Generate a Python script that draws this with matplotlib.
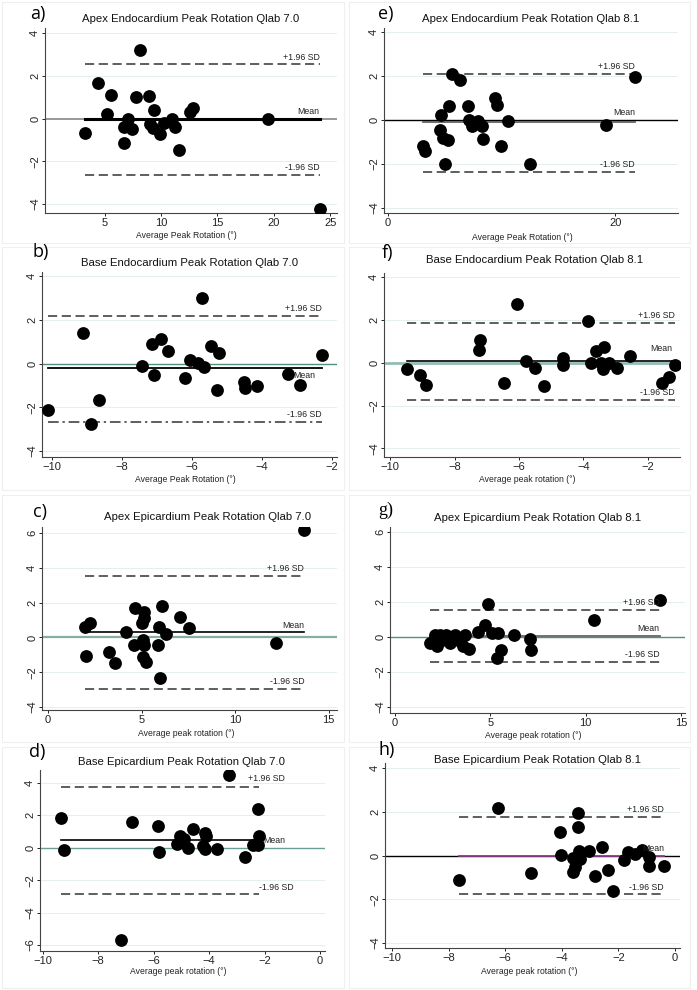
import matplotlib
matplotlib.use("Agg")
import matplotlib.pyplot as plt
from matplotlib.patches import Rectangle

W, H = 697, 990

# ---- data: average vs difference ----
# a) Apex Endocardium Qlab 7.0
a_avg = [3.22, 4.41, 5.53, 5.21, 8.11, 6.69, 6.69, 7.07, 7.46, 7.81, 8.94, 9.0,
         9.30, 9.36, 9.89, 10.27, 10.99, 11.22, 11.61, 12.56, 12.85, 19.52, 24.05]
a_diff = [-0.69, 1.68, 1.09, 0.23, 3.20, -0.40, -1.13, 0.0, -0.51, 1.00, 1.06, -0.27,
          -0.46, 0.38, -0.71, -0.22, -0.03, -0.38, -1.48, 0.31, 0.48, 0.0, -4.23]
a_lim = [2.54, -0.04, -2.65]  # upper, mean, lower

# e) Apex Endocardium Qlab 8.1
e_avg = [3.09, 3.29, 4.62, 4.56, 4.85, 5.29, 5.0, 5.35, 5.59, 6.32, 7.0, 7.12,
         7.35, 7.94, 8.24, 8.38, 9.41, 9.56, 9.94, 10.59, 12.5, 19.18, 21.7]
e_diff = [-1.20, -1.42, 0.21, -0.44, -0.82, -0.89, -2.0, 0.65, 2.11, 1.83, 0.65, 0.02,
          -0.29, -0.06, -0.26, -0.86, 1.0, 0.70, -1.20, -0.06, -2.0, -0.24, 1.95]
e_lim = [2.11, -0.11, -2.35]

# b) Base Endocardium Qlab 7.0
b_avg = [-10.11, -9.11, -8.90, -8.67, -7.43, -7.14, -6.90, -7.08, -6.69, -6.19, -6.07, -5.84,
         -5.67, -5.71, -5.46, -5.24, -5.29, -4.52, -4.48, -4.14, -3.26, -2.93, -2.30]
b_diff = [-2.13, 1.41, -2.74, -1.67, -0.11, 0.87, 1.10, -0.53, 0.56, -0.66, 0.15, 0.03,
          -0.15, 3.01, 0.78, 0.49, -1.22, -0.85, -1.11, -1.03, -0.49, -1.00, 0.41]
b_lim = [2.17, -0.20, -2.65]

# f) Base Endocardium Qlab 8.1
f_avg = [-9.48, -9.07, -8.89, -7.21, -7.23, -6.46, -6.05, -5.79, -5.49, -5.23, -4.64, -4.64,
         -3.86, -3.76, -3.60, -3.36, -3.45, -3.40, -3.19, -2.95, -2.54, -1.57, -1.33, -1.16]
f_diff = [-0.30, -0.57, -1.03, 1.07, 0.62, -0.92, 2.75, 0.10, -0.24, -1.06, 0.22, -0.08,
          1.97, -0.01, 0.54, 0.72, 0.01, -0.31, 0.01, -0.24, 0.34, -0.95, -0.68, -0.08]
f_lim = [1.87, 0.08, -1.72]

# c) Apex Epicardium Qlab 7.0
c_avg = [2.0, 2.26, 2.03, 3.28, 3.60, 4.17, 4.67, 4.58, 5.15, 5.15, 5.02, 5.08,
         5.11, 5.08, 5.26, 5.93, 5.86, 6.08, 6.32, 5.97, 7.04, 7.52, 12.2, 13.7]
c_diff = [0.62, 0.85, -1.08, -0.83, -1.46, 0.29, 1.71, -0.44, 1.48, 1.13, 0.81, -0.12,
          -0.44, -1.12, -1.40, 0.62, -0.44, 1.83, 0.19, -2.31, 1.19, 0.56, -0.31, 6.15]
c_lim = [3.54, 0.29, -2.94]

# g) Apex Epicardium Qlab 8.1
g_avg = [1.83, 2.09, 2.18, 2.35, 2.44, 2.70, 2.88, 3.14, 3.31, 3.58, 3.66, 3.87,
         4.33, 4.71, 4.88, 5.06, 5.41, 5.58, 5.37, 6.24, 7.1, 7.12, 10.43, 13.87]
g_diff = [-0.34, 0.15, -0.53, 0.15, -0.19, 0.10, -0.34, 0.15, -0.19, -0.51, 0.10, -0.67,
          0.29, 0.70, 1.87, 0.25, 0.25, -0.72, -1.20, 0.13, -0.10, -0.72, 0.99, 2.10]
g_lim = [1.56, 0.08, -1.43]

# d) Base Epicardium Qlab 7.0
d_avg = [-9.34, -9.22, -6.78, -5.84, -5.81, -5.16, -5.06, -4.90, -4.76, -4.58, -4.16, -4.10,
         -4.22, -4.16, -3.73, -3.28, -2.71, -2.41, -2.23, -2.23, -2.19, -7.18]
d_diff = [1.84, -0.12, 1.57, 1.36, -0.23, 0.25, 0.70, 0.54, -0.04, 1.15, 0.91, 0.70,
          0.12, -0.08, -0.08, 4.52, -0.54, 0.16, 2.39, 0.19, 0.74, -5.70]
d_lim = [3.75, 0.45, -2.87]

# h) Base Epicardium Qlab 8.1
h_avg = [-7.65, -6.27, -5.08, -4.06, -4.04, -3.59, -3.55, -3.61, -3.41, -3.44, -3.38, -3.35,
         -3.02, -2.82, -2.59, -2.35, -2.20, -1.79, -1.67, -1.41, -1.18, -0.92, -0.92, -0.39]
h_diff = [-1.11, 2.17, -0.80, 1.07, 0.01, -0.11, -0.54, -0.77, 1.94, 1.30, 0.19, -0.16,
          0.19, -0.92, 0.39, -0.68, -1.61, -0.19, 0.14, 0.07, 0.27, -0.07, -0.47, -0.50]
h_lim = [1.77, 0.0, -1.78]

plt.rcParams['font.family'] = ['Liberation Sans', 'DejaVu Sans']

fig = plt.figure(figsize=(W / 100, H / 100), dpi=100)


def px_axes(l, t, r, b):
    return fig.add_axes([l / W, 1 - b / H, (r - l) / W, (b - t) / H])


# faint borders of the pasted panels
for (l, t, r, b) in [(2, 2, 344, 243), (349, 2, 690, 243), (2, 247, 344, 490),
                     (349, 247, 690, 490), (2, 495, 344, 742), (349, 495, 690, 742),
                     (2, 747, 344, 988), (349, 747, 690, 988)]:
    fig.patches.append(Rectangle((l / W, 1 - b / H), (r - l) / W, (b - t) / H,
                                 transform=fig.transFigure, fill=False,
                                 ec='#efefef', lw=0.8))

panels = [
    dict(letter='a)', title='Apex Endocardium Peak Rotation Qlab 7.0',
         xlabel='Average Peak Rotation (°)', box=(45, 28, 337, 213),
         xlim=(-0.3, 25.6), ylim=(-4.42, 4.24), xt=[5, 10, 15, 20, 25], yt=[-4, -2, 0, 2, 4],
         x=a_avg, y=a_diff, lim=a_lim, zc='#8a8a8a', zlw=1.2, mc='black', mlw=2.2,
         let=(38, 14), tit=(191, 19), xl=(186, 235)),
    dict(letter='e)', title='Apex Endocardium Peak Rotation Qlab 8.1',
         xlabel='Average Peak Rotation (°)', box=(384, 28, 678, 213),
         xlim=(-0.35, 25.5), ylim=(-4.23, 4.18), xt=[0, 20], yt=[-4, -2, 0, 2, 4],
         x=e_avg, y=e_diff, lim=e_lim, zc='black', zlw=1.0, mc='#555555', mlw=1.2,
         let=(386, 14), tit=(531, 19), xl=(522, 237)),
    dict(letter='b)', title='Base Endocardium Peak Rotation Qlab 7.0',
         xlabel='Average Peak Rotation (°)', box=(42, 272, 337, 457),
         xlim=(-10.29, -1.86), ylim=(-4.27, 4.18), xt=[-10, -8, -6, -4, -2], yt=[-4, -2, 0, 2, 4],
         x=b_avg, y=b_diff, lim=b_lim, zc='#4f8f80', zlw=1.0, mc='black', mlw=1.3,
         let=(41, 252), tit=(190, 263), xl=(185, 479)),
    dict(letter='f)', title='Base Endocardium Peak Rotation Qlab 8.1',
         xlabel='Average peak rotation (°)', box=(384, 273, 680, 457),
         xlim=(-10.19, -1.0), ylim=(-4.4, 4.2), xt=[-10, -8, -6, -4, -2], yt=[-4, -2, 0, 2, 4],
         x=f_avg, y=f_diff, lim=f_lim, zc='#93bdb4', zlw=2.0, mc='black', mlw=1.2,
         let=(387, 253), tit=(535, 260), xl=(527, 480)),
    dict(letter='c)', title='Apex Epicardium Peak Rotation Qlab 7.0',
         xlabel='Average peak rotation (°)', box=(42, 527, 337, 710),
         xlim=(-0.32, 15.45), ylim=(-4.17, 6.35), xt=[0, 5, 10, 15], yt=[-4, -2, 0, 2, 4, 6],
         x=c_avg, y=c_diff, lim=c_lim, zc='#86aea5', zlw=1.6, mc='black', mlw=1.2,
         let=(40, 512), tit=(208, 517), xl=(186, 734)),
    dict(letter='g)', title='Apex Epicardium Peak Rotation Qlab 8.1',
         xlabel='Average peak rotation (°)', box=(390, 527, 685, 713),
         xlim=(-0.26, 15.2), ylim=(-4.34, 6.3), xt=[0, 5, 10, 15], yt=[-4, -2, 0, 2, 4, 6],
         x=g_avg, y=g_diff, lim=g_lim, zc='#4f8f85', zlw=1.0, mc='#666666', mlw=1.3,
         let=(386, 510), tit=(538, 518), xl=(533, 736)),
    dict(letter='d)', title='Base Epicardium Peak Rotation Qlab 7.0',
         xlabel='Average peak rotation (°)', box=(40, 770, 325, 951),
         xlim=(-10.1, 0.18), ylim=(-6.37, 4.8), xt=[-10, -8, -6, -4, -2, 0], yt=[-6, -4, -2, 0, 2, 4],
         x=d_avg, y=d_diff, lim=d_lim, zc='#6b9e94', zlw=1.0, mc='black', mlw=1.2,
         let=(37, 752), tit=(182, 762), xl=(178, 972)),
    dict(letter='h)', title='Base Epicardium Peak Rotation Qlab 8.1',
         xlabel='Average peak rotation (°)', box=(385, 763, 680, 948),
         xlim=(-10.25, 0.18), ylim=(-4.23, 4.23), xt=[-10, -8, -6, -4, -2, 0], yt=[-4, -2, 0, 2, 4],
         x=h_avg, y=h_diff, lim=h_lim, zc='black', zlw=1.0, mc='#8a3d8a', mlw=1.3,
         let=(387, 750), tit=(537, 760), xl=(529, 971)),
]

for p in panels:
    ax = px_axes(*p['box'])
    ax.set_xlim(*p['xlim'])
    ax.set_ylim(*p['ylim'])
    for s in ['top', 'right']:
        ax.spines[s].set_visible(False)
    for s in ['left', 'bottom']:
        ax.spines[s].set_color('#444444')
        ax.spines[s].set_linewidth(0.8)
    ax.set_xticks(p['xt'])
    ax.set_yticks(p['yt'])
    ax.tick_params(labelsize=8, colors='#222222', length=2, width=0.7, pad=1.5)
    for lab in ax.get_yticklabels():
        lab.set_rotation(90)
        lab.set_va('center')
    for yv in p['yt']:
        ax.axhline(yv, color='#e6eff0', lw=0.7, zorder=0)

    xmin, xmax = min(p['x']), max(p['x'])
    up, mean, low = p['lim']
    ax.axhline(0, color=p['zc'], lw=p['zlw'], zorder=1)
    ax.plot([xmin, xmax], [mean, mean], color=p['mc'], lw=p['mlw'], zorder=2)
    ax.plot([xmin, xmax], [up, up], color='#333333', lw=1.1, dashes=(6, 3), zorder=2)
    if p['letter'] == 'b)':
        ax.plot([xmin, xmax], [low, low], color='#333333', lw=1.1, dashes=(7, 2.5, 1.5, 2.5), zorder=2)
    else:
        ax.plot([xmin, xmax], [low, low], color='#333333', lw=1.1, dashes=(6, 3), zorder=2)

    ax.scatter(p['x'], p['y'], s=85, color='black', zorder=3, linewidths=0)

    kw = dict(textcoords='offset points', fontsize=6.3, color='#222222')
    if p['letter'] == 'd)':
        ax.annotate('+1.96 SD', (xmax, up), xytext=(-8, 3), ha='left', va='bottom', **kw)
        ax.annotate('Mean', (xmax, mean), xytext=(3, 0), ha='left', va='center', **kw)
        ax.annotate('-1.96 SD', (xmax, low), xytext=(0, 2), ha='left', va='bottom', **kw)
    else:
        ax.annotate('+1.96 SD', (xmax, up), xytext=(0, 2), ha='right', va='bottom', **kw)
        ax.annotate('-1.96 SD', (xmax, low), xytext=(0, 2), ha='right', va='bottom', **kw)
        if p['letter'] == 'b)':
            ax.annotate('Mean', (-3.1, mean), xytext=(0, -2), ha='left', va='top', **kw)
        elif p['letter'] == 'f)':
            ax.annotate('Mean', (xmax, mean), xytext=(-2, 6), ha='right', va='bottom', **kw)
        else:
            ax.annotate('Mean', (xmax, max(mean, 0)), xytext=(0, 2), ha='right', va='bottom', **kw)

    fig.text(p['tit'][0] / W, 1 - p['tit'][1] / H, p['title'], ha='center', va='center',
             fontsize=8.2, color='#111111')
    fig.text(p['xl'][0] / W, 1 - p['xl'][1] / H, p['xlabel'], ha='center', va='center',
             fontsize=6.2, color='#222222')
    if p['letter'] == 'g)':
        fig.text(p['let'][0] / W, 1 - p['let'][1] / H, p['letter'], ha='center', va='center',
                 fontsize=13, family=['Liberation Serif'])
    else:
        fig.text(p['let'][0] / W, 1 - p['let'][1] / H, p['letter'], ha='center', va='center',
                 fontsize=13, family=['Open Sans', 'DejaVu Sans'])

fig.savefig('out.png', dpi=100)
